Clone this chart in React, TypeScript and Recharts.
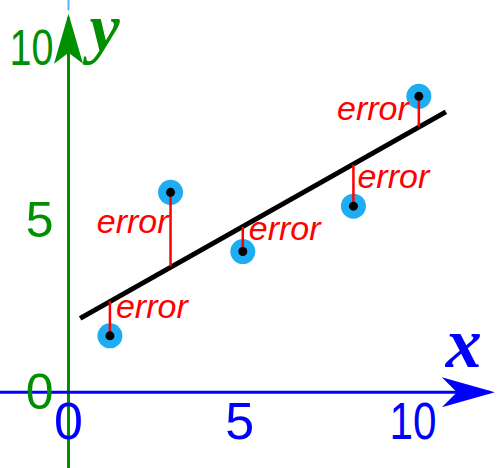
import React from 'react';
import { ComposedChart, XAxis, YAxis, Line, Scatter, ReferenceLine, ReferenceDot } from 'recharts';

// Observed data points (x, y)
const pointX = [1.21, 2.98, 5.09, 8.32, 10.23];
const pointY = [1.64, 5.81, 4.09, 5.41, 8.6];
// Fitted (line) values read at each point's x
const fitY = [2.65, 3.66, 4.81, 6.61, 7.72];
// Regression line endpoints
const lineX = [0.34, 11.02];
const lineY = [2.15, 8.15];
// Tick labels
const xTicks = [0, 5, 10];
const yTicks = [0, 5, 10];
const errorLabel = 'error';

const points = pointX.map((x, i) => ({ x, y: pointY[i], fit: fitY[i] }));
const fitLine = lineX.map((x, i) => ({ x, y: lineY[i] }));

const GREEN = '#008f00';
const BLUE = '#0000ff';
const RED = '#ff0000';
const LIGHT = '#1eadf2';
const SANS = '"Liberation Sans", Arial, sans-serif';
const SERIF = '"Liberation Serif", "Times New Roman", serif';

// label offsets (pixels) relative to each point: [dx, dy, anchor]
const labelOffsets: [number, number, 'start' | 'end'][] = [
  [6, -18, 'start'],
  [-2, 41, 'end'],
  [6, -12, 'start'],
  [4, -18, 'start'],
  [-10, 24, 'end'],
];

export default function App() {
  return (
    <div style={{ position: 'absolute', left: 0, top: 0, width: 500, height: 468, background: '#fff' }}>
      <ComposedChart width={500} height={468} margin={{ top: 0, right: 0, bottom: 0, left: 0 }}>
        <XAxis type="number" dataKey="x" domain={[-2, 12.6]} hide allowDataOverflow />
        <YAxis type="number" dataKey="y" domain={[-2.2, 11.4]} hide allowDataOverflow />

        {/* light blue stub at top of y axis */}
        <ReferenceLine segment={[{ x: 0, y: 11.4 }, { x: 0, y: 11.1 }]} stroke="#4fb6ff" strokeWidth={2} zIndex={100} />
        {/* y axis */}
        <ReferenceLine segment={[{ x: 0, y: 10.9 }, { x: 0, y: -2.2 }]} stroke={GREEN} strokeWidth={3} zIndex={100} />
        {/* x axis */}
        <ReferenceLine segment={[{ x: -2, y: 0 }, { x: 12.3, y: 0 }]} stroke={BLUE} strokeWidth={3} zIndex={110} />

        <ReferenceDot
          x={0}
          y={11}
          r={1}
          zIndex={120}
          shape={(p: any) => (
            <g>
              <polygon
                points={`${p.cx},${p.cy} ${p.cx + 14.5},${p.cy + 50} ${p.cx},${p.cy + 39} ${p.cx - 14.5},${p.cy + 50}`}
                fill={GREEN}
              />
              <text x={p.cx + 36} y={p.cy + 37} textAnchor="middle" fill={GREEN} fontFamily={SERIF} fontStyle="italic" fontWeight="bold" fontSize={68}>
                y
              </text>
            </g>
          )}
        />
        <ReferenceDot
          x={12.45}
          y={0}
          r={1}
          zIndex={120}
          shape={(p: any) => (
            <g>
              <polygon
                points={`${p.cx},${p.cy} ${p.cx - 53},${p.cy - 15} ${p.cx - 38},${p.cy} ${p.cx - 53},${p.cy + 15}`}
                fill={BLUE}
              />
              <text x={p.cx - 31} y={p.cy - 25} textAnchor="middle" fill={BLUE} fontFamily={SERIF} fontStyle="italic" fontWeight="bold" fontSize={72}>
                x
              </text>
            </g>
          )}
        />

        {yTicks.map((t) => (
          <ReferenceDot
            key={'yt' + t}
            x={0}
            y={t}
            r={1}
            zIndex={130}
            shape={(p: any) => (
              <text
                x={p.cx - 15}
                y={p.cy + 17}
                textAnchor="end"
                fill={GREEN}
                fontFamily={SANS}
                fontSize={50}
                {...(t >= 10 ? { textLength: 44, lengthAdjust: 'spacingAndGlyphs' } : {})}
              >
                {t}
              </text>
            )}
          />
        ))}
        {xTicks.map((t) => (
          <ReferenceDot
            key={'xt' + t}
            x={t}
            y={0}
            r={1}
            zIndex={130}
            shape={(p: any) => (
              <text
                x={p.cx + (t === 10 ? 2 : 0)}
                y={p.cy + 47}
                textAnchor="middle"
                fill={BLUE}
                fontFamily={SANS}
                fontSize={52}
                {...(t >= 10 ? { textLength: 47, lengthAdjust: 'spacingAndGlyphs' } : {})}
              >
                {t}
              </text>
            )}
          />
        ))}

        {/* blue circles */}
        <Scatter
          data={points}
          dataKey="y"
          isAnimationActive={false}
          zIndex={200}
          shape={(p: any) => <circle cx={p.cx} cy={p.cy} r={12.5} fill={LIGHT} />}
        />

        {/* regression line */}
        <Line
          data={fitLine}
          dataKey="y"
          stroke="#000"
          strokeWidth={5}
          dot={false}
          activeDot={false}
          isAnimationActive={false}
          zIndex={300}
        />

        {/* error segments */}
        {points.map((d, i) => (
          <ReferenceLine
            key={'e' + i}
            segment={[{ x: d.x, y: d.y }, { x: d.x, y: d.fit }]}
            stroke={RED}
            strokeWidth={2.5}
            zIndex={400}
          />
        ))}

        {/* black center dots */}
        <Scatter
          data={points}
          dataKey="y"
          isAnimationActive={false}
          zIndex={500}
          shape={(p: any) => <circle cx={p.cx} cy={p.cy} r={4.5} fill="#000" />}
        />

        {/* error labels */}
        {points.map((d, i) => (
          <ReferenceDot
            key={'l' + i}
            x={d.x}
            y={d.y}
            r={1}
            zIndex={600}
            shape={(p: any) => (
              <text
                x={p.cx + labelOffsets[i][0]}
                y={p.cy + labelOffsets[i][1]}
                textAnchor={labelOffsets[i][2]}
                fill={RED}
                fontFamily={SANS}
                fontStyle="italic"
                fontSize={34}
              >
                {errorLabel}
              </text>
            )}
          />
        ))}
      </ComposedChart>
    </div>
  );
}
